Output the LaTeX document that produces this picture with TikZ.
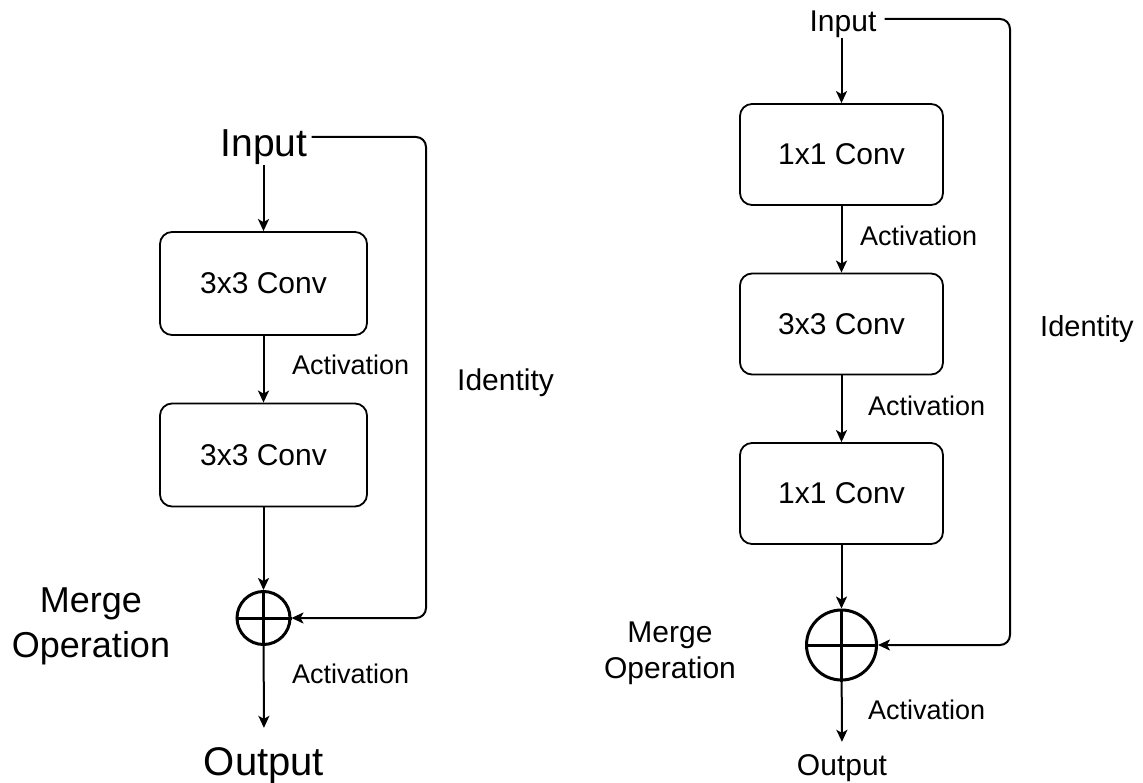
\documentclass[tikz,border=0pt]{standalone}
\usepackage{fontspec}
\setmainfont{Liberation Sans}
\usetikzlibrary{arrows.meta}
\begin{document}
\begin{tikzpicture}[x=1pt,y=-1pt,
  conv/.style={draw, line width=1.8pt, rounded corners=12pt, inner sep=0pt, font=\fontsize{30}{36}\selectfont},
  lbl/.style={inner sep=0pt, anchor=base west, font=\fontsize{27}{32}\selectfont},
  ttl/.style={inner sep=0pt, anchor=base},
  arr/.style={line width=2pt, -{Stealth[length=12pt,width=11pt,inset=3pt]}},
  merge/.style={circle, draw, line width=3pt, inner sep=0pt},
  idline/.style={line width=2pt, rounded corners=10pt, -{Stealth[length=12pt,width=11pt,inset=3pt]}},
]
\useasboundingbox (0,0) rectangle (1143,783);

% ---------- left block ----------
\node[ttl, font=\fontsize{39}{47}\selectfont] (lin) at (264,157) {Input};
\node[conv, minimum width=207pt, minimum height=103pt] (l1) at (263.5,283.5) {3x3 Conv};
\node[conv, minimum width=207pt, minimum height=103pt] (l2) at (263.5,455) {3x3 Conv};
\node[merge, minimum size=53pt] (lm) at (263.5,618) {};
\draw[line width=3pt] (lm.north) -- (lm.south) (lm.west) -- (lm.east);
\node[ttl, font=\fontsize{40}{48}\selectfont] (lout) at (264,775) {Output};
\node[lbl] (la1) at (292,375) {Activation};
\node[lbl] (la2) at (292,683) {Activation};
\node[lbl, font=\fontsize{30}{36}\selectfont] (lid) at (457,391) {Identity};
\node[ttl, align=center, font=\fontsize{36}{45}\selectfont] (lmo) at (91,657) {Merge\\Operation};
\coordinate (lc) at (426,137);

\draw[arr] (lin.south -| l1.north) -- (l1.north);
\draw[arr] (l1) -- (l2);
\draw[arr] (l2) -- (lm);
\draw[arr, shorten >=19pt] (lm) -- (lout.north);
\draw[idline] ([xshift=4pt]lin.east |- lc) -- (lc) |- (lm.east);

% ---------- right block ----------
\node[ttl, font=\fontsize{30}{36}\selectfont] (rin) at (843,32) {Input};
\node[conv, minimum width=203pt, minimum height=101pt] (r1) at (841.5,154.5) {1x1 Conv};
\node[conv, minimum width=203pt, minimum height=101pt] (r2) at (841.5,324) {3x3 Conv};
\node[conv, minimum width=203pt, minimum height=101pt] (r3) at (841.5,493.5) {1x1 Conv};
\node[merge, minimum size=70pt] (rm) at (841.5,645) {};
\draw[line width=3pt] (rm.north) -- (rm.south) (rm.west) -- (rm.east);
\node[ttl, font=\fontsize{30}{36}\selectfont] (rout) at (842,775) {Output};
\node[lbl] (ra1) at (860,246) {Activation};
\node[lbl] (ra2) at (868,415) {Activation};
\node[lbl] (ra3) at (868,719) {Activation};
\node[lbl, font=\fontsize{29}{35}\selectfont] (rid) at (1040,337) {Identity};
\node[ttl, align=center, font=\fontsize{30}{36}\selectfont] (rmo) at (670,678) {Merge\\Operation};
\coordinate (rc) at (1010,19);

\draw[arr] (rin.south -| r1.north) -- (r1.north);
\draw[arr] (r1) -- (r2);
\draw[arr] (r2) -- (r3);
\draw[arr] (r3) -- (rm);
\draw[arr, shorten >=12pt] (rm) -- (rout.north);
\draw[idline] ([xshift=8pt]rin.east |- rc) -- (rc) |- (rm.east);
\end{tikzpicture}
\end{document}
